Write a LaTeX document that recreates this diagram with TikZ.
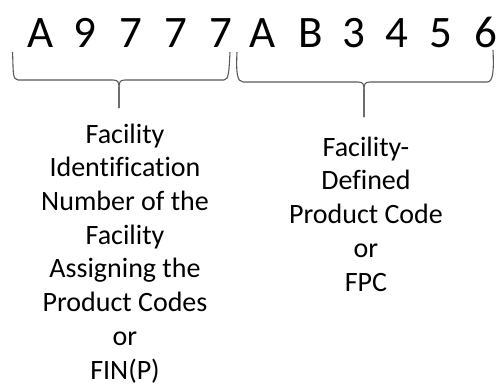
\documentclass[tikz,border=0pt]{standalone}
\usepackage{fontspec}
\setmainfont{Carlito}[RawFeature={-liga;-clig;-dlig}]
\begin{document}
\begin{tikzpicture}[x=1pt,y=-1pt,
  chr/.style={anchor=base,inner sep=0pt,font=\fontsize{45}{54}\selectfont},
  lbl/.style={anchor=base,inner sep=0pt,align=center,font=\fontsize{28}{33.7}\selectfont},
  bracel/.style={draw=black!65,line width=1.1pt,line join=round}]
\useasboundingbox (0,0) rectangle (500,384);
\node[chr] (c1) at (41,47) {A};
\node[chr] (c2) at (85,47) {9};
\node[chr] (c3) at (131,47) {7};
\node[chr] (c4) at (176,47) {7};
\node[chr] (c5) at (221,47) {7};
\node[chr] (c6) at (263,47) {A};
\node[chr] (c7) at (311,47) {B};
\node[chr] (c8) at (354,47) {3};
\node[chr] (c9) at (397,47) {4};
\node[chr] (c10) at (441,47) {5};
\node[chr] (c11) at (486,47) {6};
% left brace
\coordinate (l1) at (12.5,52);
\coordinate (lt) at (119,108);
\coordinate (l2) at (230,52);
\draw[bracel] (l1) .. controls (13.5,70) and (12,80) .. (18,80) -- (113,80)
  .. controls (118,80) and (119,82) .. (119,88) -- (lt);
\draw[bracel] (lt) -- (119,88) .. controls (119,82) and (120,80) .. (125,80) -- (224,80)
  .. controls (229,80) and (229,70) .. (l2);
% right brace
\coordinate (r1) at (237,52);
\coordinate (rt) at (364,117);
\coordinate (r2) at (493,50);
\draw[bracel] (r1) .. controls (236,72) and (237,82) .. (243,82) -- (358,82)
  .. controls (363,82) and (364,84) .. (364,90) -- (rt);
\draw[bracel] (rt) -- (364,90) .. controls (364,84) and (365,82) .. (370,82) -- (487,82)
  .. controls (493,82) and (494,72) .. (r2);
\node[lbl] (fin) at (125,379) {Facility\\Identification\\Number of the\\Facility\\Assigning the\\Product Codes\\or\\FIN(P)};
\node[lbl] (fpc) at (366,291) {Facility-\\Defined\\Product Code\\or\\FPC};
\end{tikzpicture}
\end{document}
